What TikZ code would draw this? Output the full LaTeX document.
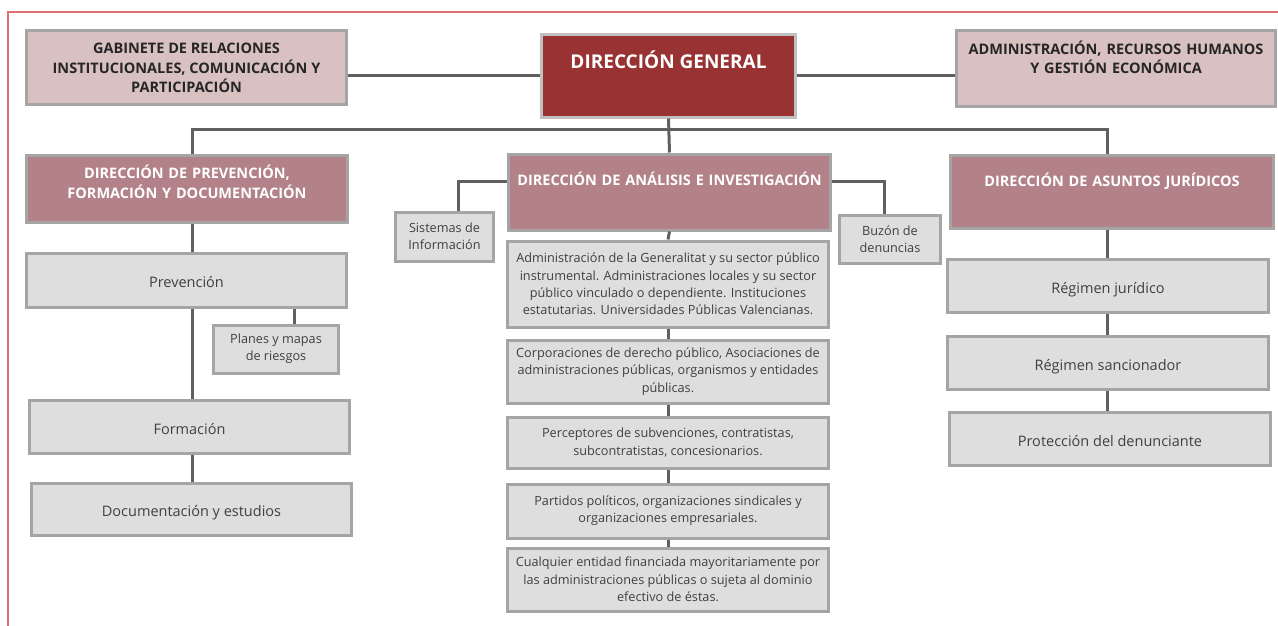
\documentclass[tikz,border=0pt]{standalone}
\usepackage{fontspec}
\setmainfont{Open Sans}
\usetikzlibrary{positioning,calc}
\definecolor{dgred}{RGB}{153,51,51}
\definecolor{rosa}{RGB}{217,192,193}
\definecolor{malva}{RGB}{178,130,136}
\definecolor{gris}{RGB}{222,222,222}
\definecolor{borde}{RGB}{165,165,165}
\definecolor{bordedg}{RGB}{192,192,192}
\definecolor{linea}{RGB}{96,96,96}
\definecolor{marco}{RGB}{222,112,112}
\definecolor{texto}{RGB}{64,64,64}
\tikzset{
unitbox/.style = {draw=borde, line width=3pt, rectangle, anchor=north, inner sep=0pt, align=center},
genbox/.style = {unitbox, draw=bordedg, fill=dgred, text=white, font=\fontsize{19}{22}\selectfont\bfseries},
sidebox/.style = {unitbox, fill=rosa, text=black!85, font=\fontsize{14.5}{19.5}\selectfont\bfseries},
dirbox/.style = {unitbox, fill=malva, text=white, font=\fontsize{14.5}{20}\selectfont\bfseries},
areabox/.style = {unitbox, fill=gris, text=texto, text height=18pt, text depth=3pt, font=\fontsize{14.5}{17}\selectfont},
subbox/.style = {unitbox, fill=gris, text=texto, font=\fontsize{12.7}{17.3}\selectfont},
link/.style = {draw=linea, line width=3pt},
frameline/.style = {draw=marco, line width=1.5pt}
}
\begin{document}
\begin{tikzpicture}[x=1pt, y=-1pt]
    \useasboundingbox (0,0) rectangle (1278,626);
    \draw[frameline] (8,626) -- (8,12) -- (1278,12);
    % top row
    \node[genbox, minimum width=254pt, text height=33.5pt, text depth=48.5pt] (dg) at (668.5,33.5) {DIRECCIÓN GENERAL};
    \node[sidebox, minimum width=320pt, minimum height=74pt] (gab) at (186.5,29.5) {GABINETE DE RELACIONES\\INSTITUCIONALES, COMUNICACIÓN Y\\PARTICIPACIÓN};
    \node[sidebox, text width=319pt, text height=23.5pt, text depth=52.5pt] (adm) at (1116,29.5) {ADMINISTRACIÓN, RECURSOS HUMANOS\\Y GESTIÓN ECONÓMICA};
    % direcciones
    \node[dirbox, text width=321pt, text height=23.5pt, text depth=43.5pt] (dprev) at (187,153.5) {DIRECCIÓN DE PREVENCIÓN,\\FORMACIÓN Y DOCUMENTACIÓN};
    \node[dirbox, text width=322pt, text height=31.5pt, text depth=44.5pt] (dana) at (669.5,152.5) {DIRECCIÓN DE ANÁLISIS E INVESTIGACIÓN};
    \node[dirbox, text width=323pt, text height=31.5pt, text depth=41.5pt] (dasj) at (1112,153.5) {DIRECCIÓN DE ASUNTOS JURÍDICOS};
    % prevencion
    \node[areabox, minimum width=320pt, minimum height=54pt] (prev) at (186.5,251.5) {Prevención};
    \node[subbox, minimum width=125pt, minimum height=48pt] (planes) at (276,323.5) {Planes y mapas\\de riesgos};
    \node[areabox, minimum width=320pt, minimum height=53pt] (form) at (189.5,398.5) {Formación};
    \node[areabox, minimum width=320pt, minimum height=52pt] (doc) at (191.5,481.5) {Documentación y estudios};
    % analisis
    \node[subbox, minimum width=98pt, minimum height=49pt] (sis) at (444.5,210.5) {Sistemas de\\Información};
    \node[subbox, minimum width=101pt, minimum height=48pt] (buz) at (890,213.5) {Buzón de\\denuncias};
    \node[subbox, minimum width=321pt, minimum height=86pt] (m1) at (668,239.5) {Administración de la Generalitat y su sector público\\instrumental. Administraciones locales y su sector\\público vinculado o dependiente. Instituciones\\estatutarias. Universidades Públicas Valencianas.};
    \node[subbox, minimum width=321pt, minimum height=63pt] (m2) at (668,338.5) {Corporaciones de derecho público, Asociaciones de\\administraciones públicas, organismos y entidades\\públicas.};
    \node[subbox, minimum width=321pt, minimum height=51pt] (m3) at (668,415.5) {Perceptores de subvenciones, contratistas,\\subcontratistas, concesionarios.};
    \node[subbox, minimum width=321pt, minimum height=54pt] (m4) at (668,482.5) {Partidos políticos, organizaciones sindicales y\\organizaciones empresariales.};
    \node[subbox, minimum width=321pt, minimum height=63pt] (m5) at (668,546.5) {Cualquier entidad financiada mayoritariamente por\\las administraciones públicas o sujeta al dominio\\efectivo de éstas.};
    % asuntos juridicos
    \node[areabox, minimum width=321pt, minimum height=53pt] (rj) at (1108,257.5) {Régimen jurídico};
    \node[areabox, minimum width=321pt, minimum height=53pt] (rs) at (1108,334.5) {Régimen sancionador};
    \node[areabox, minimum width=321pt, minimum height=53pt] (pd) at (1110,410.5) {Protección del denunciante};
    % lines
    \coordinate (lbus) at (192,129);
    \coordinate (rbus) at (1107,129);
    \draw[link] (dg.west) -- (gab.east |- dg.west);
    \draw[link] (dg.east) -- (adm.west |- dg.east);
    \draw[link] (dg.south) -- (dana.north);
    \draw[link] (lbus |- dprev.north) -- (lbus) -- (rbus) -- (rbus |- dasj.north);
    \draw[link] (lbus |- dprev.south) -- (lbus |- prev.north);
    \draw[link] (lbus |- prev.south) -- (lbus |- form.north);
    \draw[link] (lbus |- form.south) -- (lbus |- doc.north);
    \draw[link] (294,0 |- prev.south) -- (294,0 |- planes.north);
    \draw[link] ([yshift=10.5pt]dana.west) -| (458,0 |- sis.north);
    \draw[link] ([yshift=10.5pt]dana.east) -| (884,0 |- buz.north);
    \foreach \a/\b in {dana/m1,m1/m2,m2/m3,m3/m4,m4/m5}
        \draw[link] (\a.south) -- (\b.north);
    \foreach \a/\b in {dasj/rj,rj/rs,rs/pd}
        \draw[link] (rbus |- \a.south) -- (rbus |- \b.north);
\end{tikzpicture}
\end{document}
